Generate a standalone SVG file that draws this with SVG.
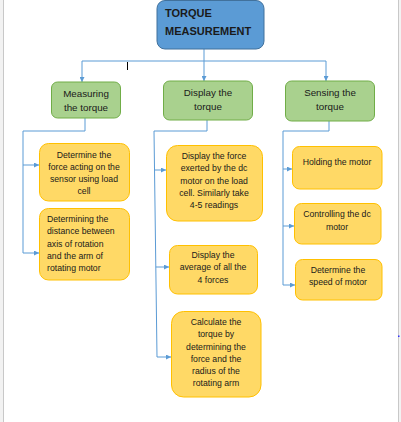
<svg xmlns="http://www.w3.org/2000/svg" width="401" height="422" viewBox="0 0 401 422">
<style>
.top{fill:#5B9BD5;stroke:#41719C;stroke-width:1}
.mid{fill:#A9D18E;stroke:#70AD47;stroke-width:1}
.leaf{fill:#FFD966;stroke:#FFC000;stroke-width:1}
.c{fill:none;stroke:#5B9BD5;stroke-width:1}
text{font-family:"Liberation Sans",Arial,sans-serif;fill:#1a1a1a}
.t1{font-size:11px;font-weight:bold}
.t2{font-size:9.8px;text-anchor:middle}
.t3{font-size:8.7px;text-anchor:middle}
.t3l{font-size:8.7px}
</style>
<defs>
<marker id="ah" viewBox="0 0 6 6" refX="6" refY="3" markerWidth="5" markerHeight="5" markerUnits="userSpaceOnUse" orient="auto">
<path d="M0,0 L6,3 L0,6 Z" fill="#5B9BD5"/>
</marker>
</defs>
<rect width="401" height="422" fill="#ffffff"/>
<rect x="0" y="0" width="3" height="422" fill="#f2f2f2"/>
<line x1="3.5" y1="0" x2="3.5" y2="422" stroke="#c8c8c8" stroke-width="1"/>
<rect x="399" y="0" width="2" height="422" fill="#f2f2f2"/>
<line x1="398.5" y1="0" x2="398.5" y2="422" stroke="#c8c8c8" stroke-width="1"/>
<rect x="398" y="335.5" width="1.5" height="1.5" fill="#3030ff"/>

<g id="connectors">
<path class="c" d="M204,49 V81" marker-end="url(#ah)"/>
<path class="c" d="M82,61 H326"/>
<path class="c" d="M82,61 V82" marker-end="url(#ah)"/>
<path class="c" d="M326,61 V81" marker-end="url(#ah)"/>
<path class="c" d="M85,118 V131 H23 V253"/>
<path class="c" d="M23,165 H39" marker-end="url(#ah)"/>
<path class="c" d="M23,253 H39" marker-end="url(#ah)"/>
<path class="c" d="M207,120 V131 H154 L157,357"/>
<path class="c" d="M154.5,170 H166" marker-end="url(#ah)"/>
<path class="c" d="M155.8,267 H169" marker-end="url(#ah)"/>
<path class="c" d="M157,357 H171" marker-end="url(#ah)"/>
<path class="c" d="M329,121 V131 H283 V285"/>
<path class="c" d="M283,169 H292" marker-end="url(#ah)"/>
<path class="c" d="M283,226 H294" marker-end="url(#ah)"/>
<path class="c" d="M283,285 H295" marker-end="url(#ah)"/>
<line x1="127.5" y1="62" x2="127.5" y2="70" stroke="#000" stroke-width="1"/>
</g>

<g id="torque-measurement">
<rect class="top" x="157" y="0.5" width="107" height="48.5" rx="8"/>
<text class="t1" x="165" y="17">TORQUE</text>
<text class="t1" x="165" y="35">MEASUREMENT</text>
</g>

<g id="measuring-the-torque">
<rect class="mid" x="51.5" y="82" width="69" height="36" rx="6"/>
<text class="t2" x="86" y="97">Measuring</text>
<text class="t2" x="86" y="111">the torque</text>
</g>
<g id="display-the-torque">
<rect class="mid" x="163.5" y="81" width="89" height="39" rx="6"/>
<text class="t2" x="208" y="96">Display the</text>
<text class="t2" x="208" y="110">torque</text>
</g>
<g id="sensing-the-torque">
<rect class="mid" x="285.5" y="81" width="89" height="40" rx="6"/>
<text class="t2" x="330" y="96">Sensing the</text>
<text class="t2" x="330" y="110">torque</text>
</g>

<g id="determine-force">
<rect class="leaf" x="39.5" y="143.5" width="90" height="57.5" rx="9"/>
<text class="t3" x="84" y="158">Determine the</text>
<text class="t3" x="84" y="170">force acting on the</text>
<text class="t3" x="84" y="182">sensor using load</text>
<text class="t3" x="84" y="194">cell</text>
</g>
<g id="determine-distance">
<rect class="leaf" x="39.5" y="208.5" width="90" height="71.5" rx="9"/>
<text class="t3l" x="47" y="222">Determining the</text>
<text class="t3l" x="47" y="234">distance between</text>
<text class="t3l" x="47" y="247">axis of rotation</text>
<text class="t3l" x="47" y="259">and the arm of</text>
<text class="t3l" x="47" y="271">rotating motor</text>
</g>

<g id="display-force">
<rect class="leaf" x="166.5" y="145.5" width="96" height="75.5" rx="11"/>
<text class="t3" x="214" y="159">Display the force</text>
<text class="t3" x="214" y="171">exerted by the dc</text>
<text class="t3" x="214" y="184">motor on the load</text>
<text class="t3" x="214" y="196">cell. Similarly take</text>
<text class="t3" x="214" y="208">4-5 readings</text>
</g>
<g id="display-average">
<rect class="leaf" x="169.5" y="245.5" width="88" height="48.5" rx="8"/>
<text class="t3" x="213" y="258">Display the</text>
<text class="t3" x="213" y="270">average of all the</text>
<text class="t3" x="213" y="283">4 forces</text>
</g>
<g id="calculate-torque">
<rect class="leaf" x="171.5" y="311.5" width="89.5" height="85.5" rx="12"/>
<text class="t3" x="216" y="325">Calculate the</text>
<text class="t3" x="216" y="337">torque by</text>
<text class="t3" x="216" y="350">determining the</text>
<text class="t3" x="216" y="362">force and the</text>
<text class="t3" x="216" y="374">radius of the</text>
<text class="t3" x="216" y="386">rotating arm</text>
</g>

<g id="holding-motor">
<rect class="leaf" x="292.5" y="146.5" width="89.5" height="42.5" rx="7"/>
<text class="t3" x="337" y="165">Holding the motor</text>
</g>
<g id="controlling-motor">
<rect class="leaf" x="294.5" y="203.5" width="86.5" height="40.5" rx="7"/>
<text class="t3" x="337" y="217">Controlling the dc</text>
<text class="t3" x="337" y="230">motor</text>
</g>
<g id="determine-speed">
<rect class="leaf" x="295.5" y="259.5" width="86.5" height="40.5" rx="7"/>
<text class="t3" x="338" y="273">Determine the</text>
<text class="t3" x="338" y="285">speed of motor</text>
</g>
</svg>
